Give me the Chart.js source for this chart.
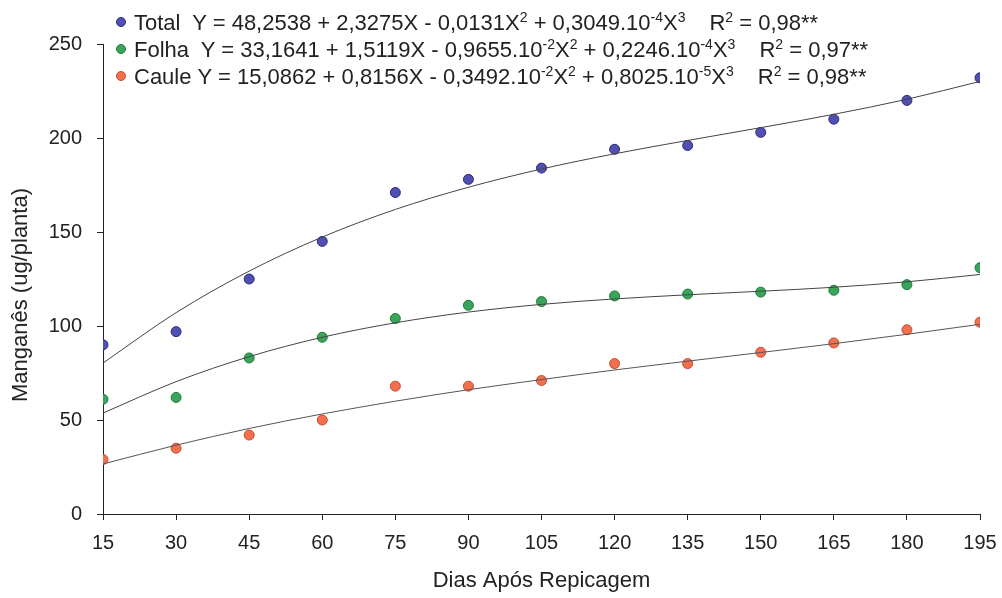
<!DOCTYPE html>
<html>
<head>
<meta charset="utf-8">
<script src="https://cdn.jsdelivr.net/npm/chart.js@4/dist/chart.umd.min.js"></script>
<style>
  body { margin: 0; background: #fff; }
  #wrap { position: relative; width: 1002px; height: 598px; }
  #legend { position: absolute; left: 116px; top: 9px; font-family: "Liberation Sans", Arial, sans-serif; font-size: 22px; color: #222; line-height: 27px; }
  #legend .row { white-space: nowrap; }
  #legend .dot { display: inline-block; width: 8px; height: 8px; border-radius: 50%; margin-right: 8px; vertical-align: 3px; }
  #legend sup { font-size: 14px; vertical-align: 8px; line-height: 0; }
  #legend .r2 { margin-left: 24px; }
  #ytitle { position: absolute; left: 20px; top: 295px; transform: translate(-50%, -50%) rotate(-90deg); font-family: "Liberation Sans", Arial, sans-serif; font-size: 22px; color: #222; white-space: nowrap; }
</style>
</head>
<body>
<div id="wrap">
  <canvas id="canvas" width="1002" height="598"></canvas>
  <div id="ytitle">Manganês (ug/planta)</div>
  <div id="legend">
    <div class="row"><span class="dot" style="background:#5050b0;border:1px solid #2a2a80"></span>Total&nbsp; Y = 48,2538 + 2,3275X - 0,0131X<sup>2</sup> + 0,3049.10<sup>-4</sup>X<sup>3</sup><span class="r2">R<sup>2</sup> = 0,98**</span></div>
    <div class="row"><span class="dot" style="background:#3aa55a;border:1px solid #1f7a3a"></span>Folha&nbsp; Y = 33,1641 + 1,5119X - 0,9655.10<sup>-2</sup>X<sup>2</sup> + 0,2246.10<sup>-4</sup>X<sup>3</sup><span class="r2">R<sup>2</sup> = 0,97**</span></div>
    <div class="row"><span class="dot" style="background:#f07050;border:1px solid #c84a30"></span>Caule&nbsp;Y = 15,0862 + 0,8156X - 0,3492.10<sup>-2</sup>X<sup>2</sup> + 0,8025.10<sup>-5</sup>X<sup>3</sup><span class="r2">R<sup>2</sup> = 0,98**</span></div>
  </div>
</div>
<script>
var dias = [15, 30, 45, 60, 75, 90, 105, 120, 135, 150, 165, 180, 195];

// observed values (ug/planta)
var total = [90, 97, 125, 145, 171, 178, 184, 194, 196, 203, 210, 220, 232];
var folha = [61, 62, 83, 94, 104, 111, 113, 116, 117, 118, 119, 122, 131];
var caule = [29, 35, 42, 50, 68, 68, 71, 80, 80, 86, 91, 98, 102];

// fitted curves read at each day
var totalFit = [80.3, 107.1, 129.2, 147.3, 162.0, 173.8, 183.5, 191.6, 198.7, 205.5, 212.6, 220.6, 230.1];
var folhaFit = [53.7, 70.4, 83.7, 94.0, 101.7, 107.4, 111.5, 114.4, 116.6, 118.5, 120.6, 123.5, 127.4];
var cauleFit = [26.6, 36.6, 45.5, 53.2, 60.0, 66.1, 71.5, 76.6, 81.3, 85.9, 90.6, 95.6, 100.9];

var yTicks = [0, 50, 100, 150, 200, 250];

function pts(arr) {
  return dias.map(function (d, i) { return { x: d, y: arr[i] }; });
}

function fitLine(arr, color) {
  return {
    type: 'line',
    data: pts(arr),
    borderColor: color,
    borderWidth: 1,
    pointRadius: 0,
    fill: false,
    cubicInterpolationMode: 'monotone'
  };
}

function scatter(arr, fillCol, edge) {
  return {
    type: 'scatter',
    data: pts(arr),
    backgroundColor: fillCol,
    borderColor: edge,
    borderWidth: 1,
    pointRadius: 5
  };
}

var fam = '"Liberation Sans", Arial, sans-serif';
var font = { family: fam, size: 20 };

var chart = new Chart(document.getElementById('canvas').getContext('2d'), {
  data: {
    datasets: [
      fitLine(totalFit, '#444'),
      fitLine(folhaFit, '#444'),
      fitLine(cauleFit, '#555'),
      scatter(total, '#5050b0', '#2a2a80'),
      scatter(folha, '#3aa55a', '#1f7a3a'),
      scatter(caule, '#f07050', '#c84a30')
    ]
  },
  options: {
    responsive: false,
    animation: false,
    layout: { padding: { top: 44, right: 22, left: 0, bottom: 0 } },
    plugins: { legend: { display: false }, tooltip: { enabled: false } },
    scales: {
      x: {
        type: 'linear',
        min: 15,
        max: 195,
        afterBuildTicks: function (s) { s.ticks = dias.map(function (v) { return { value: v }; }); },
        afterFit: function (s) { s.height = 84; s.paddingRight = 0; s.paddingLeft = 0; },
        border: { color: '#222', width: 1 },
        grid: { drawOnChartArea: false, drawTicks: true, tickLength: 6, color: '#222' },
        ticks: { color: '#222', font: font, padding: 11, maxRotation: 0, autoSkip: false },
        title: { display: true, text: 'Dias Após Repicagem', color: '#222', font: { family: fam, size: 22 }, padding: { top: 10, bottom: 4 } }
      },
      y: {
        min: 0,
        max: 250,
        afterBuildTicks: function (s) { s.ticks = yTicks.map(function (v) { return { value: v }; }); },
        afterFit: function (s) { s.width = 103; },
        border: { color: '#222', width: 1 },
        grid: { drawOnChartArea: false, drawTicks: true, tickLength: 6, color: '#222' },
        ticks: { color: '#222', font: font, padding: 15 }
      }
    }
  }
});
</script>
</body>
</html>
